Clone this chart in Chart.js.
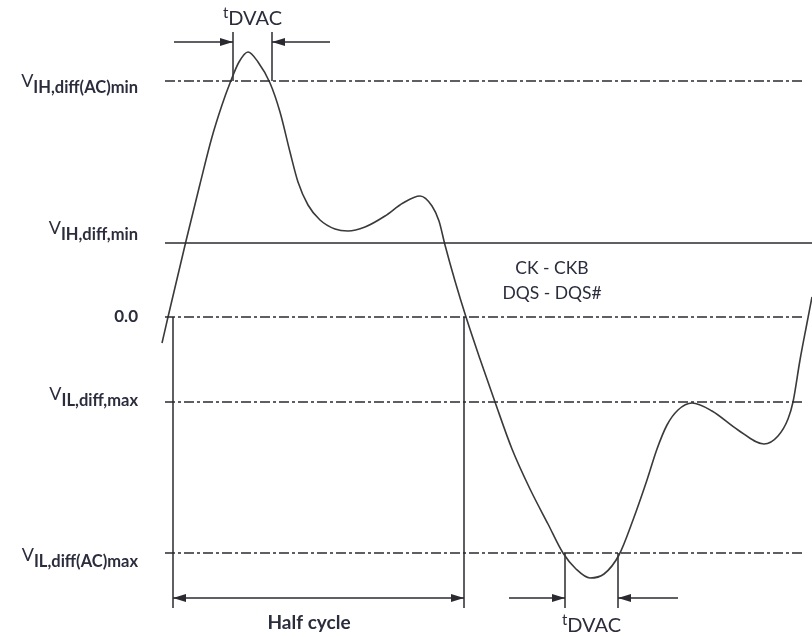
<!DOCTYPE html>
<html>
<head>
<meta charset="utf-8">
<script src="https://cdn.jsdelivr.net/npm/chart.js@4"></script>
<style>
  html, body { margin: 0; padding: 0; background: #fff; }
  #wrap { width: 812px; height: 637px; position: relative; }
</style>
</head>
<body>
<div id="wrap"><canvas id="chart"></canvas></div>
<script>
// Differential input levels, in mV-like units relative to the 0.0 crossing.
const LEVEL_MAIN = ["V", "V", "0.0", "V", "V"];
const LEVEL_SUB = ["IH,diff(AC)min", "IH,diff,min", "", "IL,diff,max", "IL,diff(AC)max"];
const LEVEL_VALUES = [236, 74, 0, -85, -236];

// CK - CKB / DQS - DQS# waveform (time, level)
const WAVE_T = [162, 168, 186, 200, 212, 222, 230, 239, 248, 258, 270, 280, 290, 298, 308, 320,
                335, 348, 365, 385, 403, 420, 432, 439, 445, 455, 466, 480, 495, 512, 530, 548,
                563, 576, 590, 604, 619, 633, 647, 657, 667, 678, 692, 712, 738, 764, 778, 788,
                793, 800, 807, 812];
const WAVE_V = [-26, 0, 76, 133, 180, 212, 234, 255, 265, 255, 234, 205, 165, 135, 112, 97,
                88, 86, 90, 101, 114, 121, 111, 96, 72, 36, 0, -42, -85, -132, -172, -207,
                -236, -252, -261, -257, -238, -203, -163, -132, -108, -93, -86, -94, -113, -127, -119, -102,
                -85, -43, -6, 20];

const HALF_CYCLE = [173, 464];
const TDVAC_HIGH = [233, 272];
const TDVAC_LOW = [565, 618];
const SIGNAL_NAMES = ["CK - CKB", "DQS - DQS#"];

// layout of the annotation marks (time / level units)
const LINE_FROM = 165;
const LINE_TO = [803, 812, 803, 803, 803];
const LEVEL_DASH = [[10, 3, 3, 3], [], [10, 3, 3, 3], [10, 3, 3, 3], [10, 3, 3, 3]];
const LABEL_RIGHT = 138;
const LABEL_SHIFT = [6, -9, 0, -2, 8];
const MARK_BOTTOM = -291;
const ARROW_LEVEL_LOW = -281;
const ARROW_LEVEL_HIGH = 275;
const MARK_TOP_HIGH = 285;
const ARROW_TAIL_HIGH = [174, 330];
const ARROW_TAIL_LOW = [509, 678];

const INK = "#2a2a30";
const TEXT = "#2b2d3d";
const FONT = "Lato, 'Liberation Sans', sans-serif";

function seg(points, opts) {
  return Object.assign({
    data: points.map(([x, y]) => ({ x, y })),
    borderColor: INK, borderWidth: 1.4, pointRadius: 0, tension: 0, fill: false,
  }, opts || {});
}

const datasets = [];

LEVEL_VALUES.forEach((v, i) => {
  datasets.push(seg([[LINE_FROM, v], [LINE_TO[i], v]], { borderDash: LEVEL_DASH[i], borderWidth: 1.3 }));
});

datasets.push({
  data: WAVE_T.map((t, i) => ({ x: t, y: WAVE_V[i] })),
  borderColor: "#3a3a3a", borderWidth: 1.6, pointRadius: 0, fill: false,
  cubicInterpolationMode: "monotone",
});

// half cycle
HALF_CYCLE.forEach((t) => datasets.push(seg([[t, 0], [t, MARK_BOTTOM]], { borderWidth: 1.5 })));
datasets.push(seg([[HALF_CYCLE[0], ARROW_LEVEL_LOW], [HALF_CYCLE[1], ARROW_LEVEL_LOW]], { arrowStart: true, arrowEnd: true }));

// tDVAC above VIH,diff(AC)min
TDVAC_HIGH.forEach((t) => datasets.push(seg([[t, LEVEL_VALUES[0]], [t, MARK_TOP_HIGH]], { borderWidth: 1.5 })));
datasets.push(seg([[ARROW_TAIL_HIGH[0], ARROW_LEVEL_HIGH], [TDVAC_HIGH[0], ARROW_LEVEL_HIGH]], { arrowEnd: true }));
datasets.push(seg([[ARROW_TAIL_HIGH[1], ARROW_LEVEL_HIGH], [TDVAC_HIGH[1], ARROW_LEVEL_HIGH]], { arrowEnd: true }));

// tDVAC below VIL,diff(AC)max
TDVAC_LOW.forEach((t) => datasets.push(seg([[t, LEVEL_VALUES[4]], [t, MARK_BOTTOM]], { borderWidth: 1.5 })));
datasets.push(seg([[ARROW_TAIL_LOW[0], ARROW_LEVEL_LOW], [TDVAC_LOW[0], ARROW_LEVEL_LOW]], { arrowEnd: true }));
datasets.push(seg([[ARROW_TAIL_LOW[1], ARROW_LEVEL_LOW], [TDVAC_LOW[1], ARROW_LEVEL_LOW]], { arrowEnd: true }));

function arrowHead(ctx, from, to) {
  const a = Math.atan2(to.y - from.y, to.x - from.x);
  const len = 13, half = 4;
  ctx.save();
  ctx.translate(to.x, to.y);
  ctx.rotate(a);
  ctx.beginPath();
  ctx.moveTo(0, 0);
  ctx.lineTo(-len, -half);
  ctx.lineTo(-len, half);
  ctx.closePath();
  ctx.fillStyle = INK;
  ctx.fill();
  ctx.restore();
}

function subText(ctx, main, sub, xRight, baseline, drop) {
  const mainFont = `18px ${FONT}`;
  const subFont = `bold 16.5px ${FONT}`;
  ctx.font = mainFont;
  const w1 = ctx.measureText(main).width;
  ctx.font = subFont;
  const w2 = ctx.measureText(sub).width;
  const x0 = xRight - w1 - w2;
  ctx.textAlign = "left";
  ctx.textBaseline = "alphabetic";
  ctx.font = mainFont;
  ctx.fillText(main, x0, baseline);
  ctx.font = subFont;
  ctx.fillText(sub, x0 + w1, baseline + drop);
}

function tdvac(ctx, xCenter, baseline) {
  ctx.font = `15px ${FONT}`;
  const w1 = ctx.measureText("t").width;
  ctx.font = `20px ${FONT}`;
  const w2 = ctx.measureText("DVAC").width;
  const x0 = xCenter - (w1 + w2) / 2;
  ctx.textAlign = "left";
  ctx.textBaseline = "alphabetic";
  ctx.font = `15px ${FONT}`;
  ctx.fillText("t", x0, baseline - 7);
  ctx.font = `20px ${FONT}`;
  ctx.fillText("DVAC", x0 + w1, baseline);
}

const annotations = {
  id: "annotations",
  afterDatasetsDraw(chart) {
    const { ctx } = chart;
    const xs = chart.scales.x, ys = chart.scales.y;
    chart.data.datasets.forEach((ds, i) => {
      const pts = chart.getDatasetMeta(i).data;
      if (ds.arrowEnd) arrowHead(ctx, pts[0], pts[pts.length - 1]);
      if (ds.arrowStart) arrowHead(ctx, pts[1], pts[0]);
    });

    ctx.save();
    ctx.fillStyle = TEXT;
    const xr = xs.getPixelForValue(LABEL_RIGHT);
    LEVEL_VALUES.forEach((v, i) => {
      const y = ys.getPixelForValue(v);
      if (LEVEL_SUB[i]) {
        subText(ctx, LEVEL_MAIN[i], LEVEL_SUB[i], xr, y + LABEL_SHIFT[i], 6);
      } else {
        ctx.font = `bold 17px ${FONT}`;
        ctx.textAlign = "right";
        ctx.textBaseline = "middle";
        ctx.fillText(LEVEL_MAIN[i], xr, y);
      }
    });

    tdvac(ctx, xs.getPixelForValue((TDVAC_HIGH[0] + TDVAC_HIGH[1]) / 2), ys.getPixelForValue(292));
    tdvac(ctx, xs.getPixelForValue((TDVAC_LOW[0] + TDVAC_LOW[1]) / 2), ys.getPixelForValue(-315));

    ctx.textAlign = "center";
    ctx.textBaseline = "middle";
    ctx.font = `bold 19px ${FONT}`;
    ctx.fillText("Half cycle", xs.getPixelForValue(309), ys.getPixelForValue(-306));
    ctx.font = `17.5px ${FONT}`;
    ctx.fillText(SIGNAL_NAMES[0], xs.getPixelForValue(552), ys.getPixelForValue(49));
    ctx.fillText(SIGNAL_NAMES[1], xs.getPixelForValue(552), ys.getPixelForValue(24));
    ctx.restore();
  },
};

new Chart(document.getElementById("chart"), {
  type: "line",
  data: { datasets },
  options: {
    responsive: true,
    maintainAspectRatio: false,
    animation: false,
    events: [],
    layout: { padding: 0 },
    scales: {
      x: { type: "linear", min: 0, max: 812, display: false },
      y: { type: "linear", min: -320, max: 317, display: false },
    },
    plugins: { legend: { display: false }, tooltip: { enabled: false } },
  },
  plugins: [annotations],
});
</script>
</body>
</html>
